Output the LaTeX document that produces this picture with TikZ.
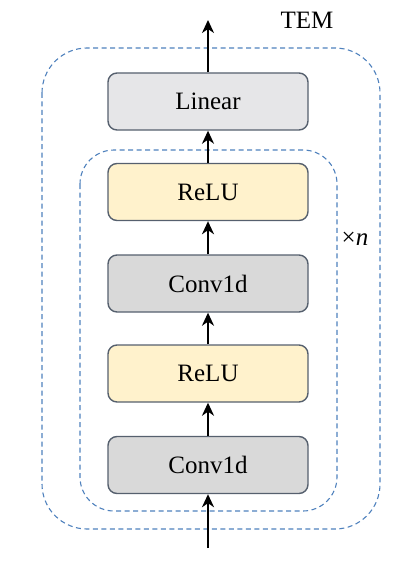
\documentclass[tikz,border=0pt]{standalone}
\usepackage{fontspec}
\setmainfont{Liberation Serif}
\usetikzlibrary{arrows.meta}
\definecolor{boxline}{HTML}{56606E}
\definecolor{lingray}{HTML}{E6E6E8}
\definecolor{convgray}{HTML}{D9D9D9}
\definecolor{reluyel}{HTML}{FFF2CC}
\definecolor{dashblue}{HTML}{4F81BD}
\tikzset{
  layer/.style={draw=boxline, line width=1.4pt, rounded corners=9pt, minimum width=200pt, minimum height=57pt, inner sep=0pt, font=\fontsize{25}{30}\selectfont},
  flow/.style={line width=1.8pt, -{Stealth[length=13pt,width=12pt,inset=4pt]}},
  group/.style={draw=dashblue, line width=1.1pt, dash pattern=on 5pt off 3.5pt},
  lbl/.style={font=\fontsize{25}{30}\selectfont, inner sep=0pt}
}
\begin{document}
\begin{tikzpicture}[x=1pt,y=-1pt]
\useasboundingbox (0,0) rectangle (415,575);
\draw[group, rounded corners=45pt] (42,48) rectangle (380,529);
\draw[group, rounded corners=34pt] (80,150) rectangle (337,511);
\node[layer, fill=lingray] (lin) at (208,101.5) {Linear};
\node[layer, fill=reluyel] (relua) at (208,192) {ReLU};
\node[layer, fill=convgray] (conva) at (208,283.5) {Conv1d};
\node[layer, fill=reluyel] (relub) at (208,373.5) {ReLU};
\node[layer, fill=convgray] (convb) at (208,465) {Conv1d};
\coordinate (in) at (208,548);
\coordinate (out) at (208,20);
\draw[flow] (in) -- (convb.south);
\draw[flow] (convb.north) -- (relub.south);
\draw[flow] (relub.north) -- (conva.south);
\draw[flow] (conva.north) -- (relua.south);
\draw[flow] (relua.north) -- (lin.south);
\draw[flow] (lin.north) -- (out);
\node[lbl] (tem) at (307,20) {TEM};
\node[lbl] (rep) at (355,239) {×\textit{n}};
\end{tikzpicture}
\end{document}
